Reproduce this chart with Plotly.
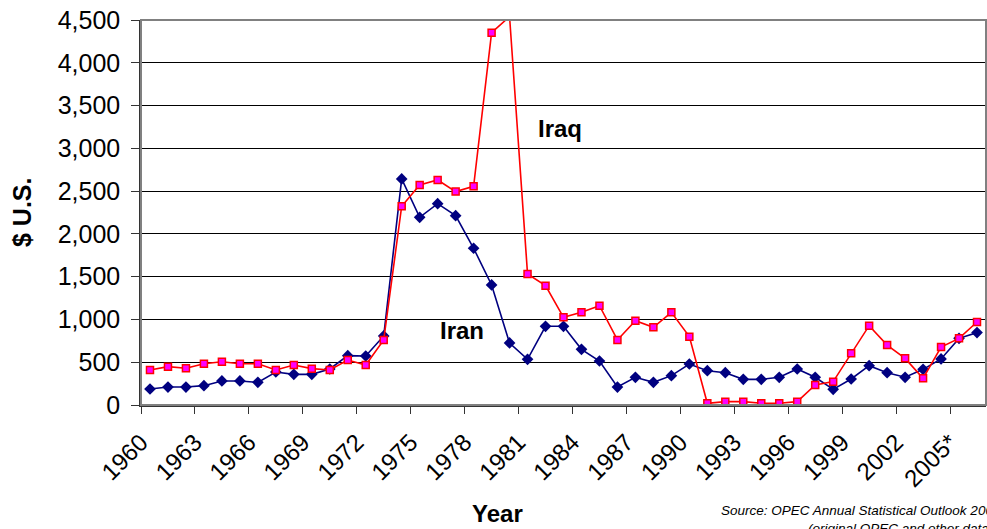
import plotly.graph_objects as go

years = list(range(1960, 2007))
iran = [187, 210, 210, 226, 281, 281, 265, 386, 358, 358,
        421, 577, 573, 807, 2642, 2194, 2353, 2213, 1832, 1403,
        725, 534, 920, 920, 651, 514, 210, 324, 265, 343,
        479, 401, 378, 300, 300, 324, 421, 324, 183, 304,
        460, 378, 324, 417, 538, 779, 846]
iraq = [409, 448, 429, 483, 506, 483, 483, 409, 468, 425,
        409, 526, 468, 760, 2323, 2572, 2630, 2494, 2556, 4352,
        4540, 1531, 1395, 1025, 1083, 1161, 760, 986, 908, 1083,
        799, 20, 39, 39, 20, 20, 39, 234, 273, 604,
        927, 701, 545, 312, 678, 779, 970]
tick_years = list(range(1960, 2006, 3))
tick_labels = [str(y) for y in tick_years[:-1]] + ["2005*"]
y_ticks = list(range(0, 4501, 500))

xc = [y + 0.5 for y in years]
font = "Liberation Sans, Arial, sans-serif"

fig = go.Figure()
fig.add_trace(go.Scatter(
    x=xc, y=iran, mode="lines+markers", name="Iran",
    line=dict(color="#000080", width=1.6),
    marker=dict(symbol="diamond", size=9, color="#000080",
                line=dict(color="#000080", width=0))))
fig.add_trace(go.Scatter(
    x=xc, y=iraq, mode="lines+markers", name="Iraq",
    line=dict(color="#FF0000", width=1.6),
    marker=dict(symbol="square", size=7, color="#FF00FF",
                line=dict(color="#FF0000", width=1.5))))


def ann(text, px, py, size, **kw):
    return dict(text=text, x=(px - 141) / 845, y=(405 - py) / 385,
                xref="paper", yref="paper", showarrow=False,
                xanchor=kw.pop("xanchor", "center"), yanchor="middle",
                font=dict(size=size, family=font), **kw)


fig.update_layout(
    width=987, height=529,
    margin=dict(l=141, r=1, t=20, b=124),
    paper_bgcolor="white", plot_bgcolor="white",
    showlegend=False,
    font=dict(family=font, color="black"),
    xaxis=dict(range=[1960, 2007], tickmode="array", tickvals=tick_years,
               ticktext=tick_labels, tickangle=-45,
               tickfont=dict(size=24, family=font),
               ticks="outside", ticklen=7, tickcolor="#333333",
               ticklabelstandoff=5,
               showgrid=False, showline=True, linecolor="#333333",
               linewidth=1.5, mirror=False, zeroline=False,
               automargin=False, fixedrange=True),
    yaxis=dict(range=[0, 4500], tickmode="array", tickvals=y_ticks,
               ticktext=[f"{v:,}" for v in y_ticks],
               tickfont=dict(size=25, family=font),
               ticks="outside", ticklen=8, tickcolor="#333333",
               ticklabelstandoff=6,
               showgrid=True, gridcolor="#000000", gridwidth=1,
               showline=True, linecolor="#333333", linewidth=1.5,
               zeroline=False, automargin=False, fixedrange=True),
    shapes=[dict(type="rect", xref="paper", yref="paper", x0=0, x1=1,
                 y0=0, y1=1, line=dict(color="#808080", width=2),
                 fillcolor="rgba(0,0,0,0)", layer="above")],
    annotations=[
        ann("<b>Iraq</b>", 560, 128, 24),
        ann("<b>Iran</b>", 462, 330, 24),
        ann("<b>$ U.S.</b>", 22, 213, 25, textangle=-90),
        ann("<b>Year</b>", 497, 513, 24),
        ann("<i>Source: OPEC Annual Statistical Outlook 2005</i>",
            719, 510, 13.5, xanchor="left"),
        ann("<i>(original OPEC and other data)</i>",
            806, 528, 13.5, xanchor="left"),
    ],
)

fig.write_html(
    "out.html",
    config={"displayModeBar": False},
    post_script="document.body.style.margin='0';"
                "document.body.style.overflow='hidden';",
)
